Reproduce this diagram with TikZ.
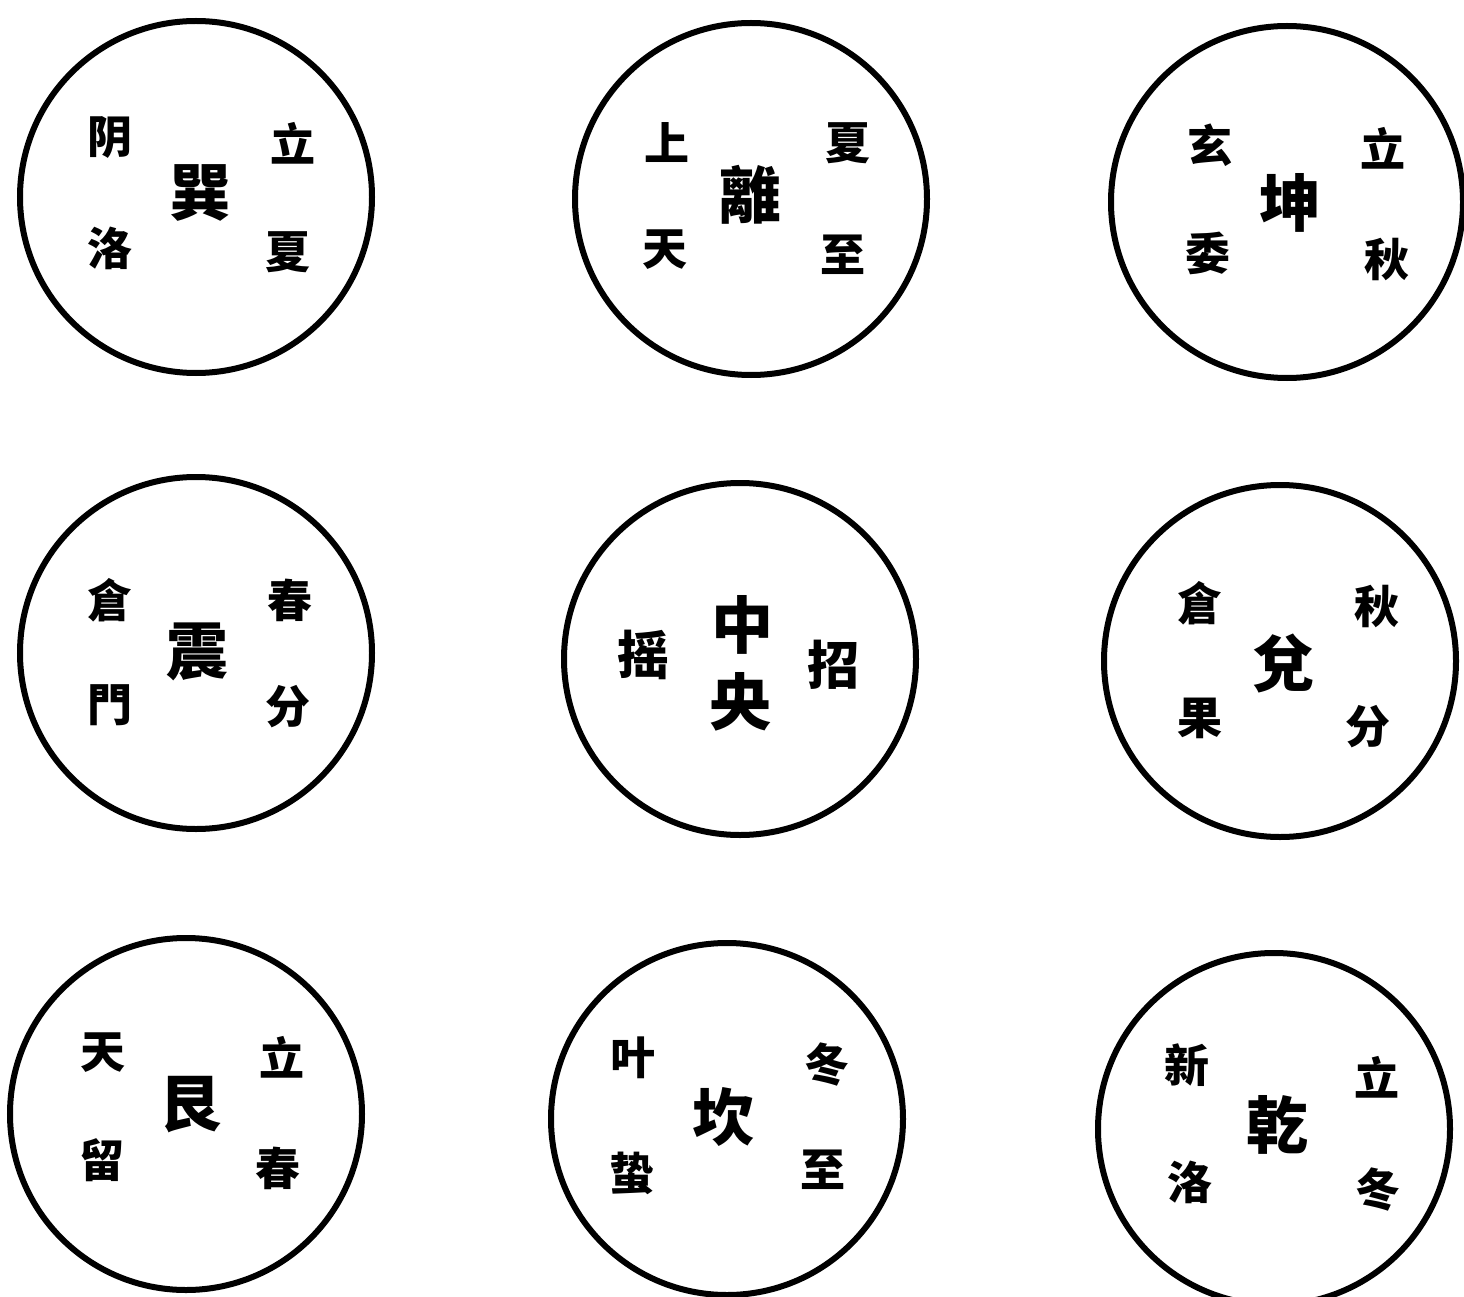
\documentclass[tikz,border=0pt]{standalone}
\usepackage{fontspec}
\newfontfamily\cjk{Noto Sans CJK SC}
\begin{document}
\begin{tikzpicture}[x=1pt,y=-1pt,
  palace/.style={circle,draw,line width=6pt,minimum size=352pt,inner sep=0pt},
  side/.style={font=\cjk\bfseries\fontsize{45}{45}\selectfont,inner sep=0pt},
  mid/.style={font=\cjk\bfseries\fontsize{62}{62}\selectfont,inner sep=0pt},
  cside/.style={font=\cjk\bfseries\fontsize{52}{52}\selectfont,inner sep=0pt}]
\path[use as bounding box] (0,0) rectangle (1464,1297);
\clip (0,0) rectangle (1464,1297);
% row 1
\node[palace] (xun) at (196,197) {};
\node[side] (xa) at (110,137) {阴};
\node[side] (xb) at (110,248) {洛};
\node[mid] (xc) at (200,193) {巽};
\node[side] (xd) at (293,143) {立};
\node[side] (xe) at (288,252) {夏};

\node[palace] (li) at (751,199) {};
\node[side] (la) at (667,143) {上};
\node[side] (lb) at (665,250) {天};
\node[mid] (lc) at (750,195) {離};
\node[side] (ld) at (848,143) {夏};
\node[side] (le) at (843,255) {至};

\node[palace] (kun) at (1287,202) {};
\node[side] (ka) at (1210,145) {玄};
\node[side] (kb) at (1208,253) {委};
\node[mid] (kc) at (1290,203) {坤};
\node[side] (kd) at (1383,148) {立};
\node[side] (ke) at (1387,260) {秋};
% row 2
\node[palace] (zhen) at (196,653) {};
\node[side] (za) at (110,600) {倉};
\node[side] (zb) at (110,705) {門};
\node[mid] (zc) at (197,652) {震};
\node[side] (zd) at (290,600) {春};
\node[side] (ze) at (288,707) {分};

\node[palace] (zy) at (740,659) {};
\node[cside] (ya) at (643,655) {摇};
\node[mid] (yb) at (742,625) {中};
\node[mid] (yc) at (740,702) {央};
\node[cside] (yd) at (833,665) {招};

\node[palace] (dui) at (1280,661) {};
\node[side] (da) at (1200,603) {倉};
\node[side] (db) at (1200,718) {果};
\node[mid] (dc) at (1283,663) {兌};
\node[side] (dd) at (1377,607) {秋};
\node[side] (de) at (1368,727) {分};
% row 3
\node[palace] (gen) at (186,1114) {};
\node[side] (ga) at (103,1053) {天};
\node[side] (gb) at (102,1160) {留};
\node[mid] (gc) at (190,1105) {艮};
\node[side] (gd) at (282,1057) {立};
\node[side] (ge) at (278,1168) {春};

\node[palace] (kan) at (727,1119) {};
\node[side] (na) at (633,1058) {叶};
\node[side] (nb) at (632,1173) {蛰};
\node[mid] (nc) at (723,1117) {坎};
\node[side] (nd) at (827,1065) {冬};
\node[side] (ne) at (823,1170) {至};

\node[palace] (qian) at (1274,1129) {};
\node[side] (qa) at (1187,1065) {新};
\node[side] (qb) at (1190,1182) {洛};
\node[mid] (qc) at (1277,1125) {乾};
\node[side] (qd) at (1377,1077) {立};
\node[side] (qe) at (1378,1190) {冬};
\end{tikzpicture}
\end{document}
